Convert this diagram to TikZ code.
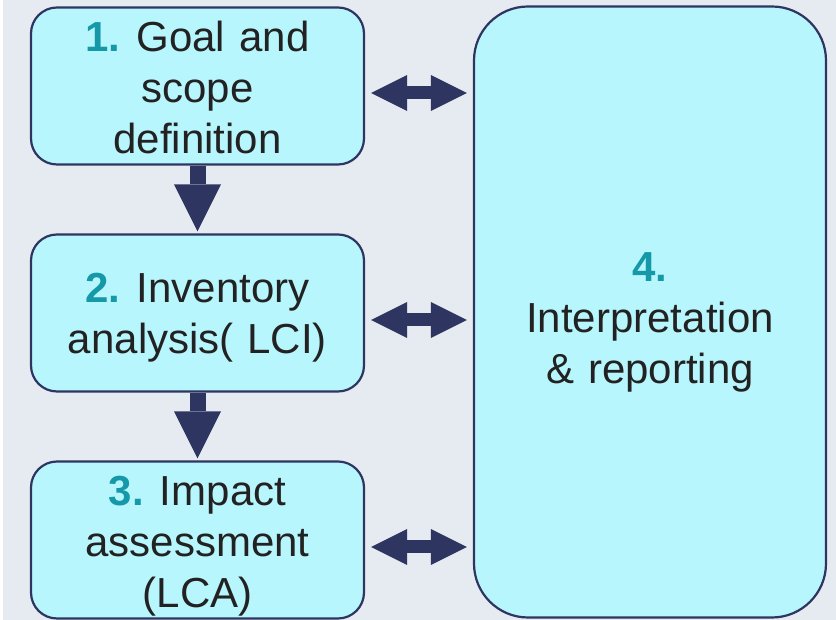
\documentclass[tikz,border=0pt]{standalone}
\usepackage{fontspec}
\setmainfont{Liberation Sans}
\usetikzlibrary{shapes,arrows.meta}
\definecolor{bgcol}{HTML}{E6EAF1}
\definecolor{boxcol}{HTML}{B8F6FE}
\definecolor{navy}{HTML}{2E3561}
\definecolor{numcol}{HTML}{1598A8}
\definecolor{txtcol}{HTML}{222222}
\newcommand{\stepno}[1]{\textcolor{numcol}{\textbf{#1}}\kern-5pt\relax}
\tikzstyle{block} = [rectangle, draw=navy, fill=boxcol, line width=2.2pt,
    text width=333pt, align=center, rounded corners=26pt, minimum height=157pt,
    inner sep=0pt, text=txtcol, font=\fontsize{42}{51}\selectfont, node distance=227pt]
\tikzstyle{bigblock} = [block, text width=352pt, minimum height=611pt, rounded corners=54pt]
\tikzstyle{line} = [draw=navy, line width=16pt,
    -{Triangle[length=47pt,width=47pt,line width=0pt]}, shorten >=2pt]
\tikzstyle{both} = [draw=navy, line width=13pt,
    {Triangle[length=36pt,width=36pt,line width=0pt]}-{Triangle[length=36pt,width=36pt,line width=0pt]},
    shorten <=6pt, shorten >=6pt]

\begin{document}
\begin{tikzpicture}[x=1pt, y=1pt]
    \fill [white] (0,0) rectangle (836,620);
    \fill [bgcol] (3,0) rectangle (836,620);
    \useasboundingbox (0,0) rectangle (836,620);

    \node [block, execute at end node={\par\vspace*{-3pt}}] (goal) at (197.5,534) {\stepno{1.} Goal and\\ scope\\ definition};
    \node [block, below of=goal, execute at end node={\par\vspace*{-10pt}}] (inv) {\stepno{2.} Inventory\\ analysis( LCI)};
    \node [block, below of=inv, execute at end node={\par\vspace*{-12pt}}] (impact) {\stepno{3.} Impact\\ assessment\\ (LCA)};
    \node [bigblock, right of=inv, node distance=452.5pt, yshift=1pt,
        execute at end node={\par\vspace*{-20pt}}] (interp) {\textcolor{numcol}{\textbf{4.}}\\ Interpretation\\ \& reporting};

    \path [line] (goal) -- (inv);
    \path [line] (inv) -- (impact);
    \path [both] ([yshift=-7pt]goal.east) -- ([yshift=-7pt]goal.east -| interp.west);
    \path [both] ([yshift=-7pt]inv.east) -- ([yshift=-7pt]inv.east -| interp.west);
    \path [both] ([yshift=-7pt]impact.east) -- ([yshift=-7pt]impact.east -| interp.west);

\end{tikzpicture}
\end{document}
